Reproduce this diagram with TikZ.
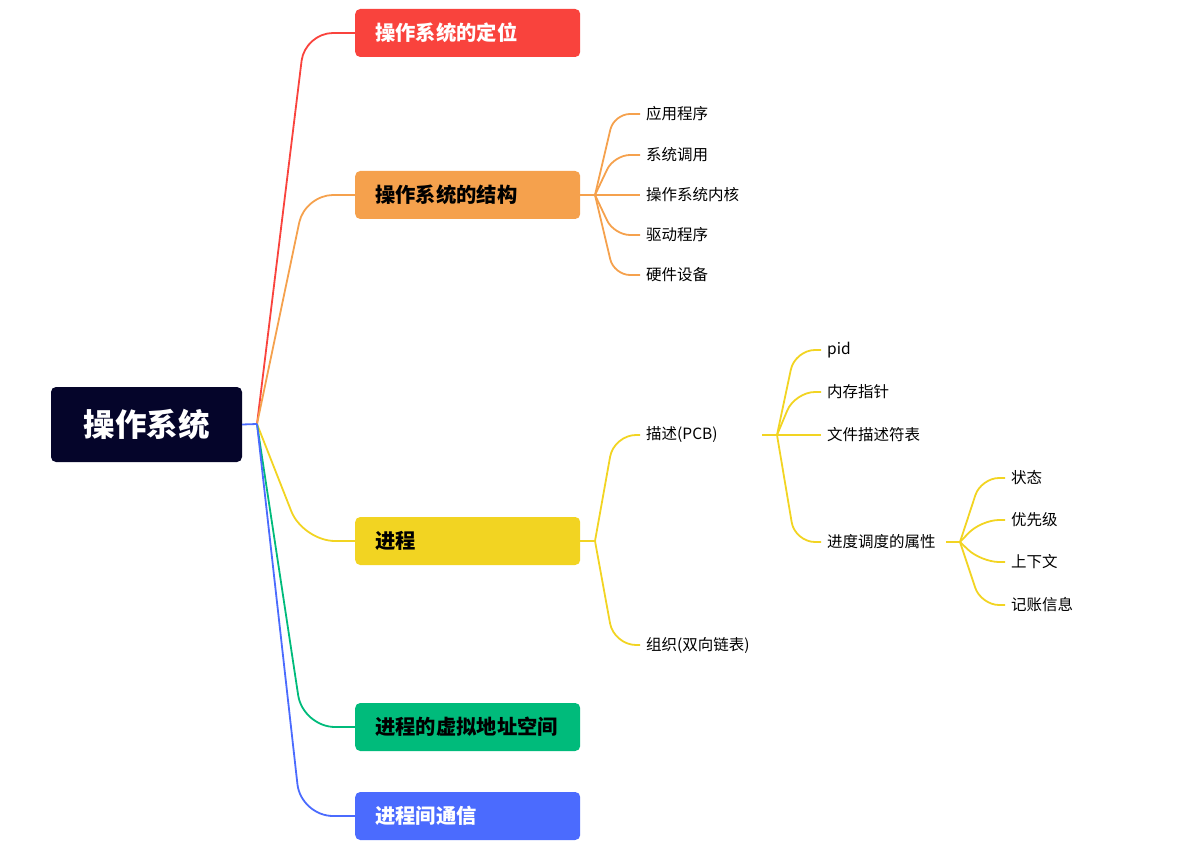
\documentclass[tikz,border=0pt]{standalone}
\usepackage{fontspec}
\setmainfont{Noto Sans CJK SC}
\usetikzlibrary{positioning}
\definecolor{rootnavy}{HTML}{05052A}
\definecolor{mapred}{HTML}{F9433D}
\definecolor{maporange}{HTML}{F5A14D}
\definecolor{mapyellow}{HTML}{F2D422}
\definecolor{mapgreen}{HTML}{00BB7B}
\definecolor{mapblue}{HTML}{4B6BFE}

\begin{document}
\begin{tikzpicture}[
    x=1pt, y=-1pt,
    root/.style={rounded corners=5pt, fill=rootnavy, text=white, minimum width=191pt, minimum height=75pt, font=\fontsize{31.5}{36}\selectfont\bfseries},
    topic/.style={rounded corners=5pt, anchor=west, text width=185pt, inner xsep=20pt, minimum height=48pt, align=left, font=\fontsize{20.3}{24}\selectfont\bfseries},
    leaf/.style={anchor=west, inner xsep=6pt, inner ysep=2pt, font=\fontsize{15.5}{18}\selectfont},
    link/.style={line width=1.8pt},
]
\useasboundingbox (0,0) rectangle (1181,850);

\node[root] (os) at (146.5,424.5) {操作系统};
\coordinate (hub) at (257,424);

% First level
\node[topic, fill=mapred, text=white] (pos) at (355,33) {操作系统的定位};
\node[topic, fill=maporange] (struct) at (355,195) {操作系统的结构};
\node[topic, fill=mapyellow] (proc) at (355,541) {进程};
\node[topic, fill=mapgreen] (vas) at (355,727) {进程的虚拟地址空间};
\node[topic, fill=mapblue, text=white] (ipc) at (355,816) {进程间通信};

\draw[link, mapred, rounded corners=28pt] (hub) -- ([xshift=-50pt]pos.west) -- (pos.west);
\draw[link, maporange, rounded corners=28pt] (hub) -- ([xshift=-50pt]struct.west) -- (struct.west);
\draw[link, mapyellow, rounded corners=32pt] (hub) -- ([xshift=-52pt]proc.west) -- (proc.west);
\draw[link, mapgreen, rounded corners=32pt] (hub) -- ([xshift=-52pt]vas.west) -- (vas.west);
\draw[link, mapblue, rounded corners=32pt] (hub) -- ([xshift=-54pt]ipc.west) -- (ipc.west);
\draw[link, mapblue] (os.east) -- (hub);

% Structure of the OS
\coordinate (shub) at (595,195);
\node[leaf] (app) at (640,114) {应用程序};
\node[leaf] (call) at (640,155) {系统调用};
\node[leaf] (kern) at (640,195) {操作系统内核};
\node[leaf] (drv) at (640,235) {驱动程序};
\node[leaf] (hw) at (640,275) {硬件设备};
\draw[link, maporange] (struct.east) -- (shub);
\foreach \n in {app, call, kern, drv, hw} {
    \draw[link, maporange, rounded corners=16pt] (shub) -- ([xshift=-26pt]\n.west) -- (\n.west);
}

% Process
\coordinate (phub) at (595,541);
\node[leaf] (desc) at (640,435) {描述(PCB)};
\node[leaf] (org) at (640,645) {组织(双向链表)};
\draw[link, mapyellow] (proc.east) -- (phub);
\foreach \n in {desc, org} {
    \draw[link, mapyellow, rounded corners=22pt] (phub) -- ([xshift=-26pt]\n.west) -- (\n.west);
}

% PCB fields
\coordinate (dout) at (762,435);
\coordinate (dhub) at (777,435);
\node[leaf] (pid) at (821,350) {pid};
\node[leaf] (mem) at (821,392) {内存指针};
\node[leaf] (fd) at (821,435) {文件描述符表};
\node[leaf] (attr) at (821,542) {进度调度的属性};
\draw[link, mapyellow] (dout) -- (dhub);
\foreach \n in {pid, mem, fd, attr} {
    \draw[link, mapyellow, rounded corners=20pt] (dhub) -- ([xshift=-26pt]\n.west) -- (\n.west);
}

% Scheduling attributes
\coordinate (aout) at (946,542);
\coordinate (ahub) at (960,542);
\node[leaf] (state) at (1005,478) {状态};
\node[leaf] (prio) at (1005,520) {优先级};
\node[leaf] (ctx) at (1005,562) {上下文};
\node[leaf] (acct) at (1005,605) {记账信息};
\draw[link, mapyellow] (aout) -- (ahub);
\foreach \n in {state, prio, ctx, acct} {
    \draw[link, mapyellow, rounded corners=18pt] (ahub) -- ([xshift=-24pt]\n.west) -- (\n.west);
}

\end{tikzpicture}
\end{document}
